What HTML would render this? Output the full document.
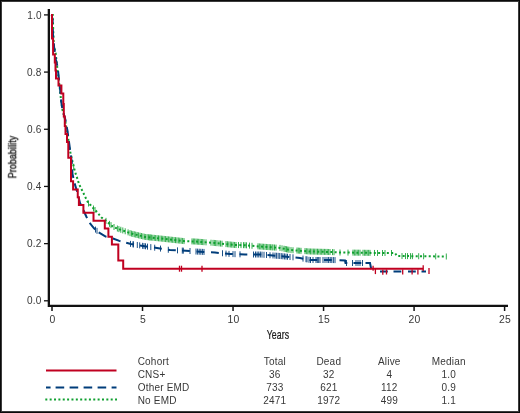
<!DOCTYPE html><html><head><meta charset="utf-8"><style>html,body{margin:0;padding:0;background:#fff;}body{width:520px;height:413px;overflow:hidden;}svg{display:block;}text{font-family:"Liberation Sans",sans-serif;fill:#383838;}.t{will-change:transform;letter-spacing:0.2px;}</style></head><body>
<svg width="520" height="413" viewBox="0 0 520 413">
<rect x="0.5" y="0.5" width="519" height="412" fill="#fff" stroke="#0a0a0a" stroke-width="1"/>
<rect x="1.5" y="1.5" width="517" height="410" fill="none" stroke="#3c3c3c" stroke-width="1"/>
<path d="M48.85 9 V305.85 H508" fill="none" stroke="#111" stroke-width="2.3"/>
<line x1="44" x2="48" y1="14.9" y2="14.9" stroke="#111" stroke-width="1.3"/>
<text class="t" x="41.7" y="18.5" font-size="10" text-anchor="end">1.0</text>
<line x1="44" x2="48" y1="72.08" y2="72.08" stroke="#111" stroke-width="1.3"/>
<text class="t" x="41.6" y="75.68" font-size="10" text-anchor="end" textLength="14.6" lengthAdjust="spacingAndGlyphs">0.8</text>
<line x1="44" x2="48" y1="129.26" y2="129.26" stroke="#111" stroke-width="1.3"/>
<text class="t" x="41.6" y="132.86" font-size="10" text-anchor="end" textLength="14.6" lengthAdjust="spacingAndGlyphs">0.6</text>
<line x1="44" x2="48" y1="186.44" y2="186.44" stroke="#111" stroke-width="1.3"/>
<text class="t" x="41.6" y="190.04" font-size="10" text-anchor="end" textLength="14.6" lengthAdjust="spacingAndGlyphs">0.4</text>
<line x1="44" x2="48" y1="243.62" y2="243.62" stroke="#111" stroke-width="1.3"/>
<text class="t" x="41.6" y="247.22" font-size="10" text-anchor="end" textLength="14.6" lengthAdjust="spacingAndGlyphs">0.2</text>
<line x1="44" x2="48" y1="300.8" y2="300.8" stroke="#111" stroke-width="1.3"/>
<text class="t" x="41.6" y="304.4" font-size="10" text-anchor="end" textLength="14.6" lengthAdjust="spacingAndGlyphs">0.0</text>
<line x1="52" x2="52" y1="307" y2="311" stroke="#111" stroke-width="1.5"/>
<text class="t" x="52.5" y="323" font-size="10.4" text-anchor="middle">0</text>
<line x1="142.52" x2="142.52" y1="307" y2="311" stroke="#111" stroke-width="1.5"/>
<text class="t" x="143.02" y="323" font-size="10.4" text-anchor="middle">5</text>
<line x1="233.04" x2="233.04" y1="307" y2="311" stroke="#111" stroke-width="1.5"/>
<text class="t" x="233.54" y="323" font-size="10.4" text-anchor="middle">10</text>
<line x1="323.56" x2="323.56" y1="307" y2="311" stroke="#111" stroke-width="1.5"/>
<text class="t" x="324.06" y="323" font-size="10.4" text-anchor="middle">15</text>
<line x1="414.08" x2="414.08" y1="307" y2="311" stroke="#111" stroke-width="1.5"/>
<text class="t" x="414.58" y="323" font-size="10.4" text-anchor="middle">20</text>
<line x1="504.6" x2="504.6" y1="307" y2="311" stroke="#111" stroke-width="1.5"/>
<text class="t" x="505.1" y="323" font-size="10.4" text-anchor="middle">25</text>
<text class="t" transform="translate(278 338.8) scale(0.7 1)" font-size="12.5" text-anchor="middle" style="fill:#1a1a1a" stroke="#1a1a1a" stroke-width="0.25">Years</text>
<text class="t" transform="translate(16.2 157) rotate(-90) scale(0.795 1)" font-size="11" text-anchor="middle" style="fill:#1a1a1a" stroke="#1a1a1a" stroke-width="0.4">Probability</text>
<path d="M51.7 14.9 L52.8 15 L53.2 30 L53.8 45 L55.8 54 L56.6 62 L58.3 76 L60 90 L61 100 L62.5 110 L64.5 117 L66.5 128 L68 136 L69.5 149 L71.5 157 L72.5 161.6 L74 168 L75.8 174.2 L77.5 179 L79 184 L82 190.2 L84 194.3 L86 198.5 L88.5 203.5 L91 205.5 L93.5 208.5 L97 212 L101.5 217.5 L105 220 L108.5 223 L112 226 L116 228 L120 229.5 L125 231.2 L131 233.5 L145 236.9 L165 239 L185 241.2 L195 241.5 L215 243 L235 245 L245 245.2 L260 246.5 L280 247.9 L290 250 L310 251.5 L330 252 L340 252.5 L360 252.7 L378 253 L395 253 L397 256 L446.3 256.5" fill="none" stroke="#10a030" stroke-width="2" stroke-dasharray="2 2.35"/>
<path d="M73.7 163.72 V169.72 M88.5 200.5 V206.5 M93.5 205.5 V211.5 M95 207 V213 M106 217.86 V223.86 M109.5 220.86 V226.86 M111 222.14 V228.14 M114 224 V230 M117.4 225.53 V231.53 M118.9 226.09 V232.09 M120.8 226.77 V232.77 M122.8 227.45 V233.45 M125.2 228.28 V234.28 M128.1 229.39 V235.39 M130 230.12 V236.12 M131.43 230.6 V236.6 M132.86 230.95 V236.95 M134.29 231.3 V237.3 M135.71 231.64 V237.64 M137.14 231.99 V237.99 M138.57 232.34 V238.34 M140 232.69 V238.69 M141.43 233.03 V239.03 M142.86 233.38 V239.38 M144.29 233.73 V239.73 M145.71 233.97 V239.97 M147.14 234.12 V240.12 M148.57 234.28 V240.28 M150 234.43 V240.43 M150 234.43 V240.43 M151.42 234.57 V240.57 M152.83 234.72 V240.72 M154.25 234.87 V240.87 M155.67 235.02 V241.02 M157.08 235.17 V241.17 M158.5 235.32 V241.32 M159.92 235.47 V241.47 M161.33 235.62 V241.62 M162.75 235.76 V241.76 M164.17 235.91 V241.91 M165.58 236.06 V242.06 M167 236.22 V242.22 M168.42 236.38 V242.38 M169.83 236.53 V242.53 M171.25 236.69 V242.69 M172.67 236.84 V242.84 M174.08 237 V243 M175.5 237.16 V243.16 M176.92 237.31 V243.31 M178.33 237.47 V243.47 M179.75 237.62 V243.62 M181.17 237.78 V243.78 M182.58 237.93 V243.93 M184 238.09 V244.09 M192 238.41 V244.41 M193.33 238.45 V244.45 M194.67 238.49 V244.49 M196 238.57 V244.57 M197.33 238.68 V244.68 M198.67 238.78 V244.78 M200 238.88 V244.88 M201.33 238.97 V244.97 M202.67 239.07 V245.07 M204 239.18 V245.18 M206 239.32 V245.32 M211 239.7 V245.7 M213 239.85 V245.85 M214.33 239.95 V245.95 M215.67 240.07 V246.07 M217 240.2 V246.2 M219 240.4 V246.4 M220.5 240.55 V246.55 M222 240.7 V246.7 M226 241.1 V247.1 M227.43 241.24 V247.24 M228.86 241.39 V247.39 M230.29 241.53 V247.53 M231.71 241.67 V247.67 M233.14 241.81 V247.81 M234.57 241.96 V247.96 M236 242.02 V248.02 M238.5 242.07 V248.07 M241 242.12 V248.12 M243.5 242.17 V248.17 M245 242.2 V248.2 M246.5 242.33 V248.33 M249.5 242.59 V248.59 M252 242.81 V248.81 M258 243.33 V249.33 M259.4 243.45 V249.45 M260.8 243.56 V249.56 M262.2 243.65 V249.65 M263.6 243.75 V249.75 M265 243.85 V249.85 M266.4 243.95 V249.95 M267.8 244.05 V250.05 M269.2 244.14 V250.14 M270.6 244.24 V250.24 M272 244.34 V250.34 M273 244.41 V250.41 M274.5 244.52 V250.52 M276 244.62 V250.62 M280 244.9 V250.9 M282 245.32 V251.32 M284 245.74 V251.74 M285.25 246 V252 M286.5 246.27 V252.27 M287.75 246.53 V252.53 M289 246.79 V252.79 M291 247.07 V253.07 M293 247.22 V253.22 M297 247.53 V253.53 M298.33 247.62 V253.62 M299.67 247.72 V253.72 M301 247.82 V253.82 M305 248.12 V254.12 M306.39 248.23 V254.23 M307.78 248.33 V254.33 M309.17 248.44 V254.44 M310.56 248.51 V254.51 M311.94 248.55 V254.55 M313.33 248.58 V254.58 M314.72 248.62 V254.62 M316.11 248.65 V254.65 M317.5 248.69 V254.69 M318.89 248.72 V254.72 M320.28 248.76 V254.76 M321.67 248.79 V254.79 M323.06 248.83 V254.83 M324.44 248.86 V254.86 M325.83 248.9 V254.9 M327.22 248.93 V254.93 M328.61 248.97 V254.97 M330 249 V255 M332.5 249.12 V255.12 M334 249.2 V255.2 M340 249.5 V255.5 M348 249.58 V255.58 M353 249.63 V255.63 M354.4 249.64 V255.64 M355.8 249.66 V255.66 M357.2 249.67 V255.67 M358.6 249.69 V255.69 M360 249.7 V255.7 M363 249.75 V255.75 M364.4 249.77 V255.77 M365.8 249.8 V255.8 M367.2 249.82 V255.82 M368.6 249.84 V255.84 M370 249.87 V255.87 M374.5 249.94 V255.94 M377.5 249.99 V255.99 M382.5 250 V256 M385 250 V256 M391.5 250 V256 M402 253.05 V259.05 M405.5 253.09 V259.09 M407.5 253.11 V259.11 M410.5 253.14 V259.14 M412.4 253.16 V259.16 M418.7 253.22 V259.22 M423.6 253.27 V259.27 M435.7 253.39 V259.39 M446.3 253.5 V259.5" fill="none" stroke="#10a030" stroke-width="1" opacity="0.85"/>
<path d="M51.7 14.9 L52.6 20 L53 35 L53.8 45 L56 60 L57.6 67 L58.5 75 L60 88 L61 100 L62.5 110 L65.5 120 L67.5 131 L69 142 L70.5 153 L71.8 162 L72.5 174 L74.5 183 L77.5 193 L80 203 L82.5 208 L84.7 213 L88.6 221.7 L94 228.3 L98.7 232.3" fill="none" stroke="#003d7a" stroke-width="2" stroke-dasharray="8.7 5.5"/>
<path d="M98.7 232.3 L105.7 236.6 L106.5 236.81 M112.7 238.42 L113 238.5 L119.3 240.9 L120.5 241.24 M126.2 242.8 L131 244 L134 244.47 M140 245.42 L147.8 246.65 M154 247.6 L160 248.5 L161.8 248.77 M168 249.7 L170 250 L175.8 250.29 M182 250.6 L189.8 250.99 M196.5 251.57 L204.3 251.97 M211 252.3 L215 252.5 L218.8 252.88 M225 253.5 L230 254 L232.8 254.09 M239.5 254.32 L245 254.5 L247.3 254.5 M253.5 254.5 L260 254.5 L261.3 254.6 M267.5 255.06 L275.3 255.65 M281.5 256.15 L289.3 256.93 M295.5 257.55 L300 258 L303.3 258.66 M309.5 259.9 L310 260 L317.3 260 M324 260 L330 260 L331.8 260.04 M339.5 260.19 L340 260.2 L345 260.5 L345.5 263 L347.3 263 M353.5 263 L361.3 263 M365.5 263 L370 263 L371 268 L371.5 269.2 M380 271.6 L387.8 271.6 M393.5 271.6 L401.3 271.6 M408 271.6 L415.8 271.6 M421.5 271.6 L426 271.6" fill="none" stroke="#003d7a" stroke-width="2"/>
<path d="M95.5 226.58 V232.58 M97 227.85 V233.85 M130.5 240.88 V246.88 M133 241.32 V247.32 M133.4 241.38 V247.38 M137.3 241.99 V247.99 M139.7 242.37 V248.37 M142.6 242.83 V248.83 M144 243.05 V249.05 M145.5 243.29 V249.29 M147.5 243.61 V249.61 M150.8 244.12 V250.12 M154.7 244.7 V250.7 M160.5 245.57 V251.57 M168.3 246.75 V252.75 M177.5 247.38 V253.38 M182.3 247.62 V253.62 M183.3 247.66 V253.66 M190 248 V254 M196 248.55 V254.55 M197.6 248.63 V254.63 M199.2 248.71 V254.71 M200.8 248.79 V254.79 M202.4 248.87 V254.87 M204 248.95 V254.95 M222.5 250.25 V256.25 M226 250.6 V256.6 M229 250.9 V256.9 M233 251.1 V257.1 M235 251.17 V257.17 M240 251.33 V257.33 M253.5 251.5 V257.5 M255.5 251.5 V257.5 M257.12 251.5 V257.5 M258.75 251.5 V257.5 M260.38 251.53 V257.53 M262 251.65 V257.65 M264 251.8 V257.8 M266.5 251.99 V257.99 M270 252.25 V258.25 M273 252.47 V258.48 M275 252.62 V258.62 M276.57 252.74 V258.74 M278.14 252.86 V258.86 M279.71 252.98 V258.98 M281.29 253.13 V259.13 M282.86 253.29 V259.29 M284.43 253.44 V259.44 M286 253.6 V259.6 M287.5 253.75 V259.75 M290 254 V260 M293 254.3 V260.3 M303 255.6 V261.6 M306 256.2 V262.2 M307 256.4 V262.4 M309 256.8 V262.8 M310.5 257 V263 M313 257 V263 M316 257 V263 M317.33 257 V263 M318.67 257 V263 M320 257 V263 M323 257 V263 M325 257 V263 M327 257 V263 M328.6 257 V263 M330.2 257 V263 M331.8 257.04 V263.04 M333.4 257.07 V263.07 M335 257.1 V263.1 M346.5 260 V266 M352.5 260 V266 M356 260 V266 M358 260 V266 M360 260 V266 M362.5 260 V266" fill="none" stroke="#003d7a" stroke-width="1" opacity="0.9"/>
<path d="M52 13.9 V38.6 H53.1 V54.6 H54.8 V62.5 H55.5 V70.5 H56 V78.4 H58.5 V85.4 H61.4 V93.5 H63.3 V104 H63.8 V116.5 H64.8 V126 H65.5 V134 H67 V141.9 H68.3 V157.8 H71 V181.3 H73.1 V189.6 H77.75 V197.2 H78.9 V205.1 H83.4 V212.8 H93.5 V220.7 H104.8 V228.6 H108.4 V236.8 H111.9 V244.6 H118.3 V260.6 H123.2 V268.7 H423.3" fill="none" stroke="#c00020" stroke-width="2"/>
<line x1="179.5" x2="179.5" y1="265.7" y2="271.7" stroke="#c00020" stroke-width="1.3"/>
<line x1="181.5" x2="181.5" y1="265.7" y2="271.7" stroke="#c00020" stroke-width="1.3"/>
<line x1="202" x2="202" y1="265.7" y2="271.7" stroke="#c00020" stroke-width="1.3"/>
<line x1="373.1" x2="373.1" y1="265.8" y2="270.8" stroke="#c00020" stroke-width="1.3"/>
<line x1="375.4" x2="375.4" y1="268.9" y2="274.1" stroke="#c00020" stroke-width="1.3"/>
<line x1="382.8" x2="382.8" y1="269.8" y2="274.8" stroke="#c00020" stroke-width="1.3"/>
<line x1="386.5" x2="386.5" y1="269.5" y2="274.5" stroke="#c00020" stroke-width="1.3"/>
<line x1="402.7" x2="402.7" y1="269.4" y2="274.6" stroke="#c00020" stroke-width="1.3"/>
<line x1="412.1" x2="412.1" y1="269.4" y2="274.6" stroke="#c00020" stroke-width="1.3"/>
<line x1="417.9" x2="417.9" y1="269.4" y2="274.6" stroke="#c00020" stroke-width="1.3"/>
<line x1="423.2" x2="423.2" y1="265.3" y2="270.9" stroke="#c00020" stroke-width="1.3"/>
<line x1="429" x2="429" y1="268.1" y2="273.9" stroke="#c00020" stroke-width="1.3"/>
<line x1="46" x2="116.5" y1="370.6" y2="370.6" stroke="#c00020" stroke-width="2"/>
<line x1="46" x2="116.5" y1="387.6" y2="387.6" stroke="#003d7a" stroke-width="2" stroke-dasharray="4.6 5 8.6 5.4 8.6 5.4 8.6 5.4 8.6 5.4 8.6 5.4"/>
<line x1="45.3" x2="117" y1="399.4" y2="399.4" stroke="#10a030" stroke-width="2" stroke-dasharray="2 2.36"/>
<text class="t" x="137.7" y="364.7" font-size="10">Cohort</text>
<text class="t" x="274.8" y="364.7" font-size="10" text-anchor="middle">Total</text>
<text class="t" x="328.8" y="364.7" font-size="10" text-anchor="middle">Dead</text>
<text class="t" x="389.3" y="364.7" font-size="10" text-anchor="middle">Alive</text>
<text class="t" x="448.7" y="364.7" font-size="10" text-anchor="middle">Median</text>
<text class="t" x="137.7" y="377.8" font-size="10">CNS+</text>
<text class="t" x="274.8" y="377.8" font-size="10" text-anchor="middle">36</text>
<text class="t" x="328.8" y="377.8" font-size="10" text-anchor="middle">32</text>
<text class="t" x="389.3" y="377.8" font-size="10" text-anchor="middle">4</text>
<text class="t" x="448.7" y="377.8" font-size="10" text-anchor="middle">1.0</text>
<text class="t" x="137.7" y="390.8" font-size="10">Other EMD</text>
<text class="t" x="274.8" y="390.8" font-size="10" text-anchor="middle">733</text>
<text class="t" x="328.8" y="390.8" font-size="10" text-anchor="middle">621</text>
<text class="t" x="389.3" y="390.8" font-size="10" text-anchor="middle">112</text>
<text class="t" x="448.7" y="390.8" font-size="10" text-anchor="middle">0.9</text>
<text class="t" x="137.7" y="403.5" font-size="10">No EMD</text>
<text class="t" x="274.8" y="403.5" font-size="10" text-anchor="middle">2471</text>
<text class="t" x="328.8" y="403.5" font-size="10" text-anchor="middle">1972</text>
<text class="t" x="389.3" y="403.5" font-size="10" text-anchor="middle">499</text>
<text class="t" x="448.7" y="403.5" font-size="10" text-anchor="middle">1.1</text>
</svg></body></html>
